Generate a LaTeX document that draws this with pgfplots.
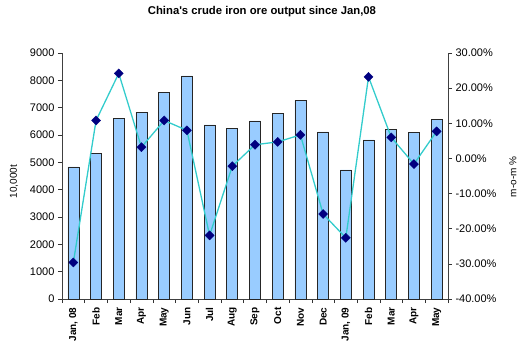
\documentclass[border=0pt]{standalone}
\usepackage{pgfplots}
\pgfplotsset{compat=1.18}
\usepackage{fontspec}
\setmainfont{Liberation Sans}

\definecolor{barblue}{HTML}{99CCFF}
\definecolor{lineteal}{HTML}{33CCCC}
\definecolor{marknavy}{HTML}{000080}

% crude iron ore output, 10,000 t
\pgfplotstableread{
x  output
0  4830
1  5330
2  6600
3  6830
4  7545
5  8160
6  6366
7  6242
8  6513
9  6795
10 7255
11 6110
12 4720
13 5818
14 6195
15 6085
16 6570
}\outputtable

% month-on-month change, %
\pgfplotstableread{
x  mom
0  -29.6
1  10.8
2  24.2
3  3.2
4  10.8
5  8.0
6  -21.9
7  -2.2
8  3.9
9  4.7
10 6.7
11 -15.8
12 -22.6
13 23.2
14 6.0
15 -1.6
16 7.7
}\momtable

\begin{document}
\begin{tikzpicture}
\path[use as bounding box] (-62pt,-55pt) rectangle (457pt,299pt);
\pgfplotsset{
  every axis/.append style={
    scale only axis, width=386pt, height=246pt,
    xmin=-0.5, xmax=16.5,
    font=\fontsize{10}{12}\selectfont,
    tick label style={font=\fontsize{11}{13}\selectfont},
    /pgf/number format/assume math mode=true,
    tick align=outside,
    major tick length=4pt,
    minor tick length=4pt,
    tick style={black!80, line width=0.5pt},
    axis line style={black!75, line width=0.6pt},
  },
}
\begin{axis}[
  axis x line*=bottom, axis y line*=left,
  ymin=0, ymax=9000, ytick={0,1000,...,9000},
  /pgf/number format/1000 sep={},
  xtick={0,...,16},
  xticklabels={{Jan, 08},Feb,Mar,Apr,May,Jun,Jul,Aug,Sep,Oct,Nov,Dec,{Jan, 09},Feb,Mar,Apr,May},
  major x tick style={draw=none},
  minor xtick={-0.5,0.5,...,16.5},
  xticklabel style={rotate=90, anchor=east, font=\fontsize{10}{12}\selectfont\bfseries},
  xticklabel shift=1pt,
  ylabel={10,000t},
  ylabel style={at={(axis description cs:-0.124,0.477)}, anchor=center},
  title={China\textquotesingle s crude iron ore output since Jan,08},
  title style={at={(axis description cs:0.518,1.146)}, anchor=center, font=\fontsize{11.3}{13}\selectfont\bfseries},
  ybar, bar width=11pt,
]
\addplot[fill=barblue, draw=black!85, line width=0.6pt] table[x=x, y=output] {\outputtable};
\end{axis}
\begin{axis}[
  axis x line=none, axis y line*=right,
  ymin=-40, ymax=30, ytick={-40,-30,...,30},
  yticklabel={\pgfmathprintnumber[fixed,fixed zerofill,precision=2]{\tick}\%},
  ylabel={m-o-m \%},
  ylabel style={at={(axis description cs:1.168,0.497)}, anchor=center},
]
\addplot[lineteal, line width=1.3pt, mark=square*, mark size=3.2pt,
  mark options={rotate=45, fill=marknavy, draw=marknavy, line width=0.4pt}]
  table[x=x, y=mom] {\momtable};
\end{axis}
\end{tikzpicture}
\end{document}
